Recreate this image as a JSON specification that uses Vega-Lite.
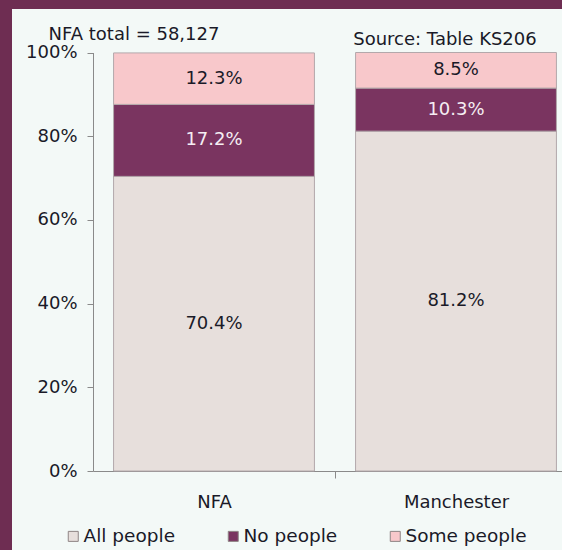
{
  "$schema": "https://vega.github.io/schema/vega-lite/v6.json",
  "width": 550,
  "height": 541,
  "autosize": {"type": "none"},
  "padding": {"left": 12, "top": 9, "right": 0, "bottom": 0},
  "background": "#6e2d52",
  "view": {"fill": "#f3f9f7", "stroke": null},
  "config": {"font": "DejaVu Sans"},
  "datasets": {
    "shares": [
      {"area": "NFA", "group": "All people", "order": 1, "share": 0.704},
      {"area": "NFA", "group": "No people", "order": 2, "share": 0.172},
      {"area": "NFA", "group": "Some people", "order": 3, "share": 0.123},
      {"area": "Manchester", "group": "All people", "order": 1, "share": 0.812},
      {"area": "Manchester", "group": "No people", "order": 2, "share": 0.103},
      {"area": "Manchester", "group": "Some people", "order": 3, "share": 0.085}
    ]
  },
  "layer": [
    {
      "data": {"name": "shares"},
      "transform": [
        {"stack": "share", "groupby": ["area"], "sort": [{"field": "order", "order": "ascending"}], "as": ["y0", "y1"]}
      ],
      "mark": {"type": "bar", "stroke": "#b3a8ab", "strokeWidth": 1},
      "encoding": {
        "x": {
          "field": "area", "type": "nominal", "sort": ["NFA", "Manchester"],
          "scale": {"range": [81, 565], "paddingInner": 0.17, "paddingOuter": 0.085},
          "axis": {
            "title": null, "orient": "bottom", "offset": -79, "labelAngle": 0,
            "labelFontSize": 18, "labelColor": "#1a1a28", "labelPadding": 15,
            "domainColor": "#8a8a8a", "tickColor": "#8a8a8a", "tickSize": 7,
            "tickOffset": 121, "labelOffset": -121, "grid": false
          }
        },
        "y": {
          "field": "y0", "type": "quantitative",
          "scale": {"domain": [0, 1], "range": [462, 43.5], "nice": false, "zero": true},
          "axis": {
            "title": null, "offset": -81, "values": [0, 0.2, 0.4, 0.6, 0.8, 1], "format": ".0%",
            "labelFontSize": 18, "labelColor": "#1a1a28", "labelPadding": 10,
            "domainColor": "#8a8a8a", "tickColor": "#8a8a8a", "tickSize": 6, "grid": false
          }
        },
        "y2": {"field": "y1"},
        "color": {
          "field": "group", "type": "nominal",
          "scale": {"domain": ["All people", "No people", "Some people"], "range": ["#e7dfdc", "#7a3460", "#f8c8cb"]},
          "legend": {
            "orient": "none", "legendX": 52, "legendY": 518, "direction": "horizontal",
            "title": null, "labelFontSize": 18.5, "labelColor": "#1a1a28",
            "symbolType": "square", "symbolSize": 100, "columnPadding": 48, "labelOffset": 1,
            "padding": 0, "symbolStrokeColor": "#8f8585", "symbolStrokeWidth": 1
          }
        }
      }
    },
    {
      "data": {"name": "shares"},
      "transform": [
        {"stack": "share", "groupby": ["area"], "sort": [{"field": "order", "order": "ascending"}], "as": ["y0", "y1"]},
        {"calculate": "(datum.y0 + datum.y1) / 2", "as": "ymid"}
      ],
      "mark": {"type": "text", "fontSize": 18, "baseline": "middle"},
      "encoding": {
        "x": {"field": "area", "type": "nominal", "sort": ["NFA", "Manchester"]},
        "y": {"field": "ymid", "type": "quantitative"},
        "text": {"field": "share", "type": "quantitative", "format": ".1%"},
        "color": {"condition": {"test": "datum.group === 'No people'", "value": "#f5eef3"}, "value": "#1a1a28"}
      }
    },
    {
      "data": {"values": [{"area": "NFA", "note": "NFA total = 58,127"}]},
      "mark": {"type": "text", "fontSize": 18, "baseline": "alphabetic", "dx": -80, "color": "#1a1a28"},
      "encoding": {
        "x": {"field": "area", "type": "nominal", "sort": ["NFA", "Manchester"]},
        "y": {"datum": 1.03, "type": "quantitative"},
        "text": {"field": "note"}
      }
    },
    {
      "data": {"values": [{"area": "Manchester", "note": "Source: Table  KS206"}]},
      "mark": {"type": "text", "fontSize": 18, "baseline": "alphabetic", "dx": -11, "color": "#1a1a28"},
      "encoding": {
        "x": {"field": "area", "type": "nominal", "sort": ["NFA", "Manchester"]},
        "y": {"datum": 1.018, "type": "quantitative"},
        "text": {"field": "note"}
      }
    }
  ]
}
